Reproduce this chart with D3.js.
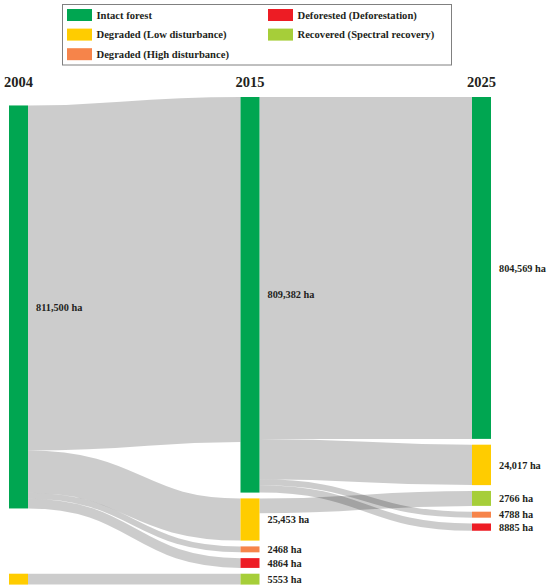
<!DOCTYPE html>
<html>
<head>
<meta charset="utf-8">
<script src="https://cdn.jsdelivr.net/npm/d3@7"></script>
<style>
  body { margin: 0; background: #fff; }
  text { font-family: "Liberation Serif", "Times New Roman", serif; font-weight: bold; fill: #231f20; }
</style>
</head>
<body>
<svg id="chart" width="550" height="588"></svg>
<script>
// time steps (one column each)
var years = ["2004", "2015", "2025"];

// forest condition classes, in legend order
var classNames = [
  "Intact forest",
  "Degraded (Low disturbance)",
  "Degraded (High disturbance)",
  "Deforested (Deforestation)",
  "Recovered (Spectral recovery)"
];
var classColors = ["#00a651", "#ffcc00", "#f6844a", "#ed1c24", "#a6ce39"];

// nodes: year, class index and the labelled area (ha)
var nodeYears = ["2004", "2004", "2015", "2015", "2015", "2015", "2015", "2025", "2025", "2025", "2025", "2025"];
var nodeClasses = [0, 1, 0, 1, 2, 3, 4, 0, 1, 4, 2, 3];
var nodeAreas = [811500, null, 809382, 25453, 2468, 4864, 5553, 804569, 24017, 2766, 4788, 8885];

// flows between nodes (index into the node arrays), area in ha estimated from band widths
var flowSources = [0, 0, 0, 0, 1, 2, 2, 2, 2, 3];
var flowTargets = [2, 3, 4, 5, 6, 7, 8, 10, 11, 9];
var flowAreas = [689000, 25453, 2468, 4864, 5553, 682000, 24017, 2500, 3300, 8100];

var svg = d3.select("#chart");
var nodeWidth = 19;
var nodePad = 5.8;
var marginTop = 97;

var x = d3.scalePoint().domain(years).range([9, 472]);
// band thickness: stretched for the small classes so they stay visible
var band = d3
  .scaleLinear()
  .domain([0, 2500, 25000, 811500])
  .range([0, 6, 42, 401])
  .clamp(true);

var nodes = nodeYears.map((yr, i) => ({
  index: i,
  year: yr,
  cls: nodeClasses[i],
  area: nodeAreas[i],
  x0: x(yr),
  x1: x(yr) + nodeWidth,
  out: [],
  inc: []
}));

var links = flowSources.map((s, i) => ({
  source: nodes[s],
  target: nodes[flowTargets[i]],
  area: flowAreas[i],
  width: band(flowAreas[i])
}));
links.forEach(l => {
  l.source.out.push(l);
  l.target.inc.push(l);
});
nodes.forEach(n => {
  n.h = Math.max(d3.sum(n.out, l => l.width), d3.sum(n.inc, l => l.width));
});

var columns = d3.group(nodes, n => n.year);

// later columns are stacked from the top
years.slice(1).forEach(yr => {
  var y = marginTop;
  columns.get(yr).forEach(n => {
    n.y0 = y;
    n.y1 = y + n.h;
    y = n.y1 + nodePad;
  });
});

// offsets of the bands on the target side (by source order)
function targetOffsets() {
  nodes.forEach(n => {
    var y = n.y0;
    n.inc
      .slice()
      .sort((a, b) => (a.source.y0 || a.source.index) - (b.source.y0 || b.source.index))
      .forEach(l => {
        l.ty = y;
        y += l.width;
      });
  });
}
targetOffsets();

// first column: put each node where its bands run as flat as possible
var first = columns.get(years[0]);
first.forEach(n => {
  var off = 0;
  var sum = 0;
  n.out
    .slice()
    .sort((a, b) => a.target.y0 - b.target.y0)
    .forEach(l => {
      sum += l.width * (l.ty - off);
      off += l.width;
    });
  n.y0 = sum / off;
});
first.sort((a, b) => a.y0 - b.y0);
first.forEach((n, i) => {
  if (i > 0) n.y0 = Math.max(n.y0, first[i - 1].y1 + nodePad);
  n.y1 = n.y0 + n.h;
});
targetOffsets();

// offsets on the source side (by target order)
nodes.forEach(n => {
  var y = n.y0;
  n.out
    .slice()
    .sort((a, b) => a.target.y0 - b.target.y0)
    .forEach(l => {
      l.sy = y;
      y += l.width;
    });
});

// bands
var linkPath = d3
  .linkHorizontal()
  .source(l => [l.source.x1, l.sy + l.width / 2])
  .target(l => [l.target.x0, l.ty + l.width / 2]);

svg
  .append("g")
  .attr("fill", "none")
  .attr("stroke", "#000")
  .attr("stroke-opacity", 0.2)
  .selectAll("path")
  .data(links)
  .join("path")
  .attr("d", linkPath)
  .attr("stroke-width", l => l.width);

// nodes
svg
  .append("g")
  .selectAll("rect")
  .data(nodes)
  .join("rect")
  .attr("x", n => n.x0)
  .attr("y", n => n.y0)
  .attr("width", nodeWidth)
  .attr("height", n => n.h)
  .attr("fill", n => classColors[n.cls]);

// area labels
svg
  .append("g")
  .selectAll("text")
  .data(nodes.filter(n => n.area != null))
  .join("text")
  .attr("x", n => n.x1 + 8)
  .attr("y", n => (n.y0 + n.y1) / 2)
  .attr("dy", "0.35em")
  .attr("font-size", "10.3px")
  .text(n => d3.format(n.area >= 10000 ? "," : "d")(n.area) + " ha");

// year headers
svg
  .append("g")
  .selectAll("text")
  .data(years)
  .join("text")
  .attr("x", yr => x(yr) + nodeWidth / 2)
  .attr("y", 87)
  .attr("text-anchor", "middle")
  .attr("font-size", "14.5px")
  .text(yr => yr);

// legend
var legend = svg.append("g");
legend
  .append("rect")
  .attr("x", 62.5)
  .attr("y", 4.5)
  .attr("width", 389)
  .attr("height", 60.5)
  .attr("fill", "#fff")
  .attr("stroke", "#808080");

var rows = 3;
var items = legend
  .selectAll("g")
  .data(classNames)
  .join("g")
  .attr("transform", (d, i) =>
    "translate(" + (67 + Math.floor(i / rows) * 201) + "," + (9 + (i % rows) * 19.6) + ")"
  );
items
  .append("rect")
  .attr("width", 25)
  .attr("height", 12)
  .attr("fill", (d, i) => classColors[i]);
items
  .append("text")
  .attr("x", 29.5)
  .attr("y", 6)
  .attr("dy", "0.35em")
  .attr("font-size", "10.6px")
  .text(d => d);
</script>
</body>
</html>
